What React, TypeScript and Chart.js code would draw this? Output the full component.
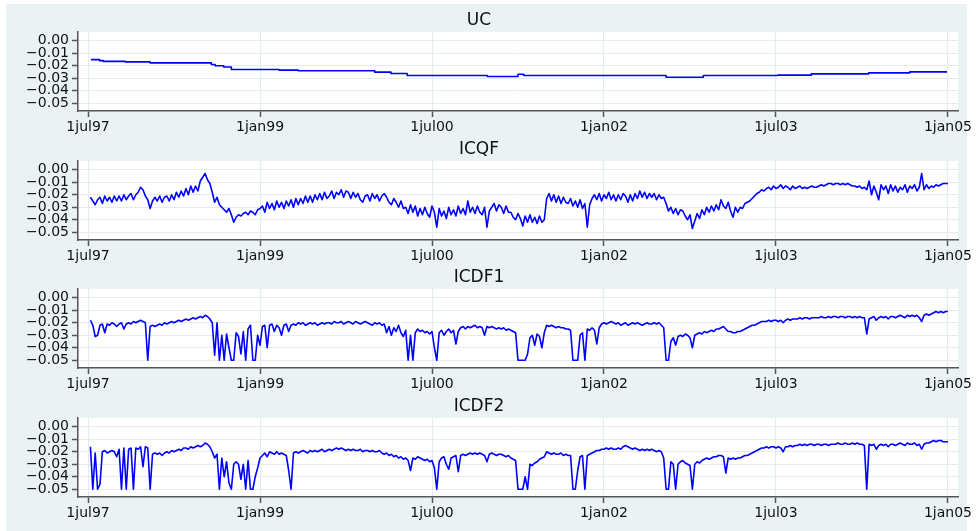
import React, { useEffect, useRef } from "react";
import { Chart, registerables } from "chart.js";

Chart.register(...registerables);

// Time axis: months since 1 July 1997
const X_TICKS = [0, 18, 36, 54, 72, 90];
const X_TICK_LABELS = ["1jul97", "1jan99", "1jul00", "1jan02", "1jul03", "1jan05"];
const Y_TICKS = [0, -0.01, -0.02, -0.03, -0.04, -0.05];

// UC changes in small steps: each value holds from its month until the next one
const UC_T = [0.3, 1.2, 1.6, 3.9, 6.5, 12.9, 13.3, 14.2, 15.0, 20.0, 22.0, 30.0, 31.7, 33.4, 41.8, 45.0, 45.6, 60.5, 64.4, 72.2, 75.7, 81.7, 86.0, 89.9];
const UC_V = [-0.0151, -0.0159, -0.0165, -0.0169, -0.0177, -0.019, -0.02, -0.021, -0.023, -0.0235, -0.024, -0.0251, -0.0262, -0.0278, -0.0286, -0.0268, -0.0278, -0.0292, -0.0278, -0.0275, -0.0265, -0.0257, -0.0249, -0.0249];

// Weekly observations, four per month, the first at month 0.25
const ICQF = [
  -.022, -.025, -.028, -.024, -.022, -.027, -.021, -.025, -.022, -.026, -.021, -.025,
  -.021, -.025, -.020, -.024, -.021, -.019, -.024, -.020, -.018, -.014, -.016, -.021,
  // 1998
  -.024, -.031, -.025, -.022, -.025, -.021, -.026, -.022, -.021, -.025, -.020, -.024,
  -.018, -.022, -.017, -.021, -.015, -.020, -.013, -.018, -.013, -.017, -.009, -.006,
  -.003, -.008, -.011, -.018, -.026, -.022, -.028, -.030, -.032, -.034, -.031, -.036,
  -.042, -.038, -.036, -.037, -.035, -.034, -.036, -.033, -.034, -.036, -.032, -.031,
  // 1999
  -.029, -.034, -.026, -.031, -.027, -.032, -.025, -.030, -.026, -.031, -.025, -.029,
  -.024, -.030, -.023, -.028, -.023, -.027, -.021, -.026, -.021, -.026, -.020, -.024,
  -.019, -.024, -.018, -.023, -.021, -.017, -.023, -.018, -.020, -.016, -.022, -.017,
  -.018, -.023, -.018, -.022, -.019, -.024, -.026, -.021, -.020, -.025, -.019, -.023,
  // 2000
  -.020, -.025, -.021, -.019, -.022, -.026, -.028, -.023, -.026, -.030, -.025, -.031,
  -.030, -.035, -.028, -.034, -.029, -.037, -.031, -.036, -.030, -.035, -.038, -.029,
  -.034, -.046, -.031, -.037, -.033, -.039, -.030, -.036, -.032, -.037, -.029, -.035,
  -.031, -.036, -.025, -.034, -.030, -.035, -.029, -.034, -.036, -.030, -.046, -.033,
  // 2001
  -.030, -.027, -.033, -.028, -.030, -.035, -.029, -.034, -.034, -.038, -.040, -.035,
  -.039, -.045, -.037, -.042, -.036, -.042, -.038, -.043, -.037, -.042, -.040, -.023,
  -.019, -.025, -.020, -.026, -.021, -.027, -.022, -.026, -.027, -.023, -.029, -.025,
  -.030, -.024, -.031, -.027, -.046, -.028, -.023, -.020, -.024, -.019, -.025, -.020,
  // 2002
  -.023, -.018, -.024, -.020, -.025, -.020, -.024, -.019, -.021, -.026, -.020, -.025,
  -.019, -.023, -.017, -.022, -.018, -.023, -.019, -.022, -.019, -.024, -.020, -.023,
  -.022, -.027, -.033, -.030, -.035, -.031, -.036, -.032, -.033, -.037, -.040, -.036,
  -.047, -.041, -.035, -.039, -.032, -.036, -.030, -.034, -.029, -.033, -.028, -.032,
  // 2003
  -.024, -.029, -.031, -.026, -.033, -.038, -.030, -.034, -.030, -.031, -.027, -.026,
  -.025, -.023, -.021, -.019, -.018, -.016, -.017, -.015, -.014, -.016, -.013, -.015,
  -.014, -.012, -.015, -.013, -.014, -.016, -.013, -.015, -.014, -.013, -.015, -.014,
  -.015, -.014, -.013, -.014, -.014, -.013, -.012, -.013, -.012, -.011, -.011, -.012,
  // 2004
  -.011, -.011, -.012, -.011, -.012, -.011, -.012, -.013, -.013, -.014, -.013, -.015,
  -.014, -.016, -.009, -.020, -.013, -.018, -.024, -.012, -.016, -.013, -.019, -.012,
  -.017, -.013, -.018, -.014, -.016, -.012, -.018, -.013, -.015, -.012, -.017, -.014,
  -.003, -.016, -.012, -.015, -.013, -.014, -.012, -.013, -.012, -.011, -.011, -.011,
];

const ICDF1 = [
  -.018, -.022, -.031, -.030, -.022, -.021, -.028, -.021, -.022, -.020, -.021, -.023,
  -.021, -.020, -.025, -.021, -.020, -.021, -.019, -.020, -.019, -.018, -.019, -.020,
  // 1998
  -.050, -.023, -.022, -.023, -.022, -.021, -.022, -.020, -.021, -.020, -.019, -.020,
  -.019, -.018, -.019, -.018, -.017, -.018, -.017, -.016, -.017, -.016, -.015, -.016,
  -.014, -.015, -.017, -.020, -.046, -.020, -.050, -.030, -.050, -.029, -.040, -.050,
  -.050, -.028, -.031, -.045, -.027, -.050, -.025, -.022, -.050, -.050, -.030, -.038,
  // 1999
  -.023, -.022, -.040, -.022, -.021, -.027, -.022, -.024, -.030, -.022, -.021, -.027,
  -.022, -.021, -.022, -.020, -.021, -.020, -.022, -.021, -.020, -.021, -.020, -.022,
  -.021, -.020, -.021, -.020, -.020, -.021, -.019, -.020, -.020, -.019, -.021, -.020,
  -.019, -.020, -.021, -.019, -.020, -.021, -.020, -.019, -.020, -.021, -.022, -.020,
  // 2000
  -.021, -.020, -.022, -.021, -.028, -.023, -.030, -.024, -.027, -.022, -.028, -.031,
  -.026, -.050, -.030, -.050, -.028, -.025, -.027, -.026, -.028, -.027, -.029, -.027,
  -.040, -.050, -.028, -.026, -.030, -.027, -.025, -.028, -.026, -.037, -.027, -.024,
  -.023, -.025, -.023, -.024, -.023, -.022, -.024, -.023, -.024, -.030, -.023, -.024,
  // 2001
  -.023, -.024, -.025, -.024, -.025, -.024, -.026, -.025, -.026, -.027, -.028, -.050,
  -.050, -.050, -.050, -.045, -.032, -.030, -.038, -.029, -.031, -.040, -.028, -.022,
  -.023, -.022, -.023, -.024, -.023, -.024, -.024, -.025, -.025, -.026, -.050, -.050,
  -.050, -.030, -.028, -.050, -.025, -.026, -.024, -.026, -.037, -.024, -.021, -.020,
  // 2002
  -.021, -.020, -.019, -.020, -.021, -.020, -.022, -.021, -.020, -.022, -.021, -.020,
  -.021, -.020, -.021, -.022, -.021, -.020, -.021, -.021, -.020, -.021, -.020, -.022,
  -.024, -.050, -.050, -.035, -.032, -.038, -.031, -.030, -.031, -.029, -.030, -.032,
  -.040, -.030, -.029, -.028, -.029, -.027, -.028, -.027, -.026, -.027, -.025, -.025,
  // 2003
  -.024, -.023, -.025, -.027, -.027, -.028, -.028, -.027, -.027, -.026, -.025, -.024,
  -.023, -.022, -.022, -.021, -.020, -.019, -.019, -.019, -.018, -.019, -.018, -.018,
  -.019, -.018, -.020, -.018, -.017, -.018, -.017, -.017, -.017, -.016, -.017, -.016,
  -.016, -.017, -.016, -.016, -.016, -.016, -.015, -.016, -.016, -.015, -.016, -.015,
  // 2004
  -.015, -.016, -.015, -.015, -.016, -.015, -.015, -.016, -.015, -.016, -.015, -.016,
  -.016, -.029, -.017, -.016, -.015, -.018, -.016, -.015, -.016, -.015, -.017, -.015,
  -.015, -.016, -.015, -.014, -.015, -.016, -.014, -.015, -.014, -.015, -.014, -.016,
  -.019, -.014, -.013, -.014, -.013, -.012, -.011, -.012, -.011, -.012, -.011, -.011,
];

const ICDF2 = [
  -.016, -.050, -.021, -.050, -.046, -.020, -.019, -.021, -.020, -.019, -.020, -.024,
  -.018, -.050, -.017, -.050, -.018, -.017, -.050, -.017, -.018, -.016, -.032, -.016,
  // 1998
  -.017, -.050, -.022, -.021, -.022, -.021, -.023, -.021, -.020, -.021, -.019, -.020,
  -.019, -.018, -.019, -.017, -.017, -.018, -.016, -.017, -.016, -.015, -.016, -.015,
  -.013, -.014, -.016, -.020, -.025, -.022, -.050, -.025, -.040, -.028, -.045, -.050,
  -.030, -.028, -.030, -.042, -.030, -.050, -.027, -.050, -.050, -.040, -.033, -.025,
  // 1999
  -.023, -.021, -.024, -.020, -.021, -.022, -.020, -.022, -.021, -.022, -.023, -.035,
  -.050, -.021, -.020, -.021, -.020, -.019, -.020, -.021, -.019, -.020, -.019, -.020,
  -.019, -.018, -.020, -.019, -.018, -.019, -.018, -.017, -.018, -.017, -.018, -.019,
  -.018, -.019, -.018, -.019, -.019, -.018, -.020, -.019, -.019, -.020, -.019, -.020,
  // 2000
  -.020, -.019, -.021, -.022, -.021, -.023, -.022, -.024, -.023, -.025, -.024, -.026,
  -.025, -.027, -.035, -.025, -.026, -.024, -.025, -.026, -.027, -.026, -.028, -.027,
  -.033, -.050, -.028, -.025, -.024, -.030, -.034, -.025, -.024, -.023, -.036, -.023,
  -.022, -.023, -.022, -.021, -.022, -.021, -.022, -.021, -.022, -.023, -.028, -.022,
  // 2001
  -.021, -.022, -.023, -.022, -.022, -.023, -.024, -.023, -.025, -.026, -.027, -.050,
  -.050, -.050, -.040, -.050, -.030, -.031, -.029, -.028, -.026, -.025, -.024, -.020,
  -.021, -.022, -.021, -.022, -.022, -.021, -.023, -.022, -.023, -.023, -.050, -.050,
  -.035, -.024, -.023, -.050, -.023, -.022, -.021, -.020, -.019, -.019, -.018, -.018,
  // 2002
  -.017, -.018, -.017, -.018, -.018, -.017, -.018, -.016, -.015, -.016, -.017, -.018,
  -.017, -.018, -.019, -.018, -.019, -.018, -.019, -.018, -.019, -.020, -.019, -.020,
  -.025, -.050, -.050, -.028, -.030, -.050, -.030, -.028, -.027, -.029, -.030, -.031,
  -.050, -.030, -.028, -.029, -.027, -.026, -.025, -.026, -.025, -.024, -.024, -.023,
  // 2003
  -.023, -.024, -.037, -.025, -.026, -.025, -.026, -.025, -.025, -.024, -.023, -.023,
  -.022, -.021, -.020, -.019, -.018, -.017, -.017, -.016, -.017, -.016, -.016, -.017,
  -.016, -.017, -.020, -.016, -.016, -.015, -.016, -.015, -.015, -.014, -.015, -.014,
  -.015, -.014, -.014, -.015, -.014, -.014, -.015, -.014, -.014, -.015, -.014, -.014,
  // 2004
  -.014, -.013, -.014, -.014, -.013, -.014, -.014, -.013, -.014, -.013, -.014, -.014,
  -.015, -.050, -.014, -.015, -.014, -.018, -.015, -.014, -.015, -.014, -.016, -.014,
  -.014, -.015, -.014, -.013, -.014, -.015, -.013, -.014, -.014, -.013, -.015, -.014,
  -.018, -.014, -.013, -.013, -.012, -.011, -.012, -.011, -.011, -.012, -.012, -.012,
];

const WEEK_T = ICQF.map((_, i) => (i + 1) / 4);

const FONT = '"DejaVu Sans", Verdana, sans-serif';
const TEXT = "#111111";
const AXIS = "#555555";
const GRID = "#e3ebee";
const REGION = "#eaf2f3";
const LINE = "#0000ff";

const fmtY = (v: number) => (v === 0 ? "0.00" : "\u2212" + Math.abs(v).toFixed(2));

const plotBackground = {
  id: "plotBackground",
  beforeDraw(chart: any) {
    const { ctx, chartArea } = chart;
    ctx.save();
    ctx.fillStyle = "#ffffff";
    ctx.fillRect(chartArea.left, chartArea.top, chartArea.right - chartArea.left, chartArea.bottom - chartArea.top);
    ctx.restore();
  },
};

type PanelProps = {
  title: string;
  times: number[];
  values: number[];
  stepped?: boolean;
  top: number;
};

const CANVAS_W = 976;
const CANVAS_H = 132;

function Panel({ title, times, values, stepped, top }: PanelProps) {
  const ref = useRef<HTMLCanvasElement | null>(null);

  useEffect(() => {
    if (!ref.current) return;
    const tickFont = { family: FONT, size: 14 };
    const chart = new Chart(ref.current, {
      type: "line",
      data: {
        datasets: [
          {
            label: title,
            data: times.map((t, i) => ({ x: t, y: values[i] })),
            borderColor: LINE,
            borderWidth: 1.6,
            borderJoinStyle: "round",
            pointRadius: 0,
            tension: 0,
            fill: false,
            stepped: stepped ? true : false,
          },
        ],
      },
      options: {
        animation: false,
        responsive: false,
        maintainAspectRatio: false,
        events: [],
        layout: { padding: { left: 0, right: 18, top: 0, bottom: 0 } },
        plugins: {
          legend: { display: false },
          tooltip: { enabled: false },
          title: {
            display: true,
            text: title,
            color: TEXT,
            font: { family: FONT, size: 17, weight: "normal", lineHeight: 1.25 },
            padding: { top: 6, bottom: 0.75 },
          },
        },
        scales: {
          x: {
            type: "linear",
            min: -1.05,
            max: 91.05,
            afterBuildTicks: (s: any) => {
              s.ticks = X_TICKS.map((v) => ({ value: v }));
            },
            afterFit: (s: any) => {
              s.height = CANVAS_H - 28 - 79;
            },
            ticks: {
              autoSkip: false,
              maxRotation: 0,
              padding: 2,
              color: TEXT,
              font: tickFont,
              callback: (v: any) => X_TICK_LABELS[X_TICKS.indexOf(Number(v))] ?? "",
            },
            grid: { color: GRID, lineWidth: 1, tickColor: AXIS, tickLength: 6, tickWidth: 1.5 },
            border: { display: true, color: AXIS, width: 1.5 },
          },
          y: {
            type: "linear",
            min: -0.0562,
            max: 0.007,
            afterBuildTicks: (s: any) => {
              s.ticks = Y_TICKS.map((v) => ({ value: v }));
            },
            afterFit: (s: any) => {
              s.width = 78;
            },
            ticks: {
              autoSkip: false,
              padding: 3,
              color: TEXT,
              font: tickFont,
              callback: (v: any) => fmtY(Number(v)),
            },
            grid: { color: GRID, lineWidth: 1, tickColor: AXIS, tickLength: 6, tickWidth: 1.5 },
            border: { display: true, color: AXIS, width: 1.5 },
          },
        },
      } as any,
      plugins: [plotBackground],
    });
    return () => chart.destroy();
  }, [title, times, values, stepped]);

  return (
    <canvas
      ref={ref}
      width={CANVAS_W}
      height={CANVAS_H}
      style={{ position: "absolute", left: 0, top, width: CANVAS_W, height: CANVAS_H }}
    />
  );
}

export default function App() {
  return (
    <div
      style={{
        position: "absolute",
        left: 0,
        top: 0,
        width: 976,
        height: 531,
        background: "#ffffff",
        overflow: "hidden",
      }}
    >
      <div
        style={{
          position: "absolute",
          left: 6,
          top: 4,
          width: 961,
          height: 527,
          background: REGION,
        }}
      />
      <Panel title="UC" times={UC_T} values={UC_V} stepped top={4} />
      <Panel title="ICQF" times={WEEK_T} values={ICQF} top={133} />
      <Panel title="ICDF1" times={WEEK_T} values={ICDF1} top={261} />
      <Panel title="ICDF2" times={WEEK_T} values={ICDF2} top={390} />
    </div>
  );
}
